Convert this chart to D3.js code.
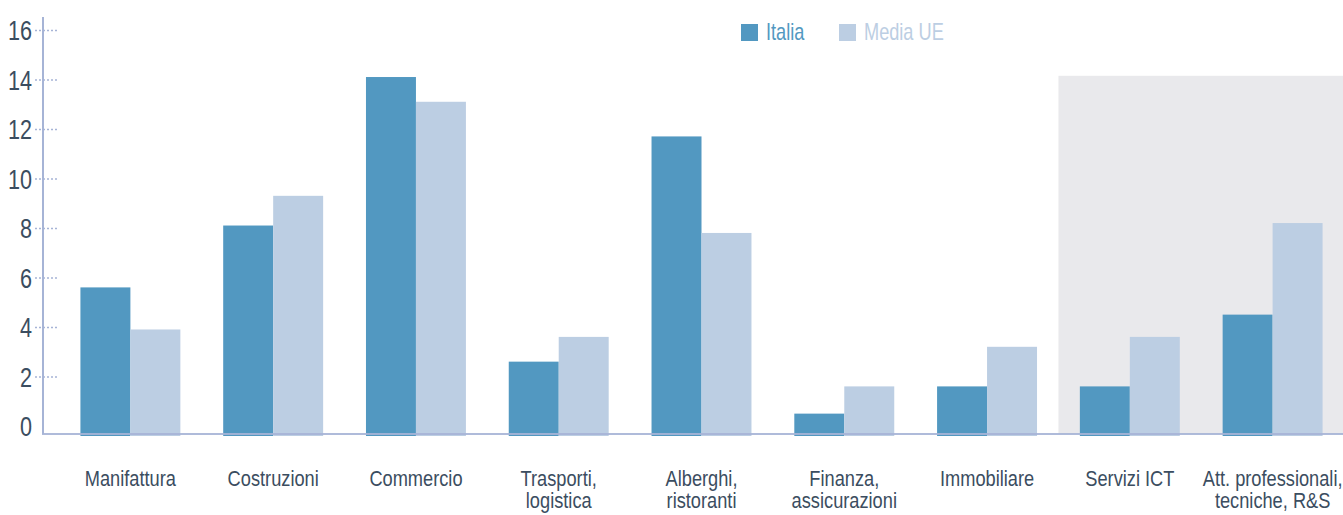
<!DOCTYPE html>
<html>
<head>
<meta charset="utf-8">
<script src="https://cdn.jsdelivr.net/npm/d3@7/dist/d3.min.js"></script>
<style>
  html, body { margin: 0; padding: 0; background: #ffffff; }
  svg { display: block; }
  text { font-family: "Liberation Sans", Arial, sans-serif; }
</style>
</head>
<body>
<svg id="chart" width="1343" height="515"></svg>
<script>
// Sector categories (two-line labels split on "\n")
const categories = [
  "Manifattura",
  "Costruzioni",
  "Commercio",
  "Trasporti,\nlogistica",
  "Alberghi,\nristoranti",
  "Finanza,\nassicurazioni",
  "Immobiliare",
  "Servizi ICT",
  "Att. professionali,\ntecniche, R&S"
];

// Series values (%)
const italia  = [5.6, 8.1, 14.1, 2.6, 11.7, 0.5, 1.6, 1.6, 4.5];
const mediaUE = [3.9, 9.3, 13.1, 3.6, 7.8, 1.6, 3.2, 3.6, 8.2];

const seriesNames = ["Italia", "Media UE"];
const yTicks = [0, 2, 4, 6, 8, 10, 12, 14, 16];

// Sectors highlighted by the shaded panel, and its top value
const highlighted = ["Servizi ICT", "Att. professionali,\ntecniche, R&S"];
const highlightTop = 14.15;

const colors = { "Italia": "#5298c1", "Media UE": "#bccee3" };
const textColor = "#3b4d60";
const axisColor = "#a6b4d6";
const condense = 0.81;   // horizontal squeeze for a condensed look

const W = 1343, H = 515;
const svg = d3.select("#chart");

const axisX = 43;
const baseY = 434;

const x = d3.scaleBand()
  .domain(categories)
  .range([59, 1344])
  .paddingInner(0.3)
  .paddingOuter(0.15);

const xs = d3.scaleBand()
  .domain(seriesNames)
  .range([0, x.bandwidth()]);

const y = d3.scaleLinear().domain([0, 16]).range([426, 30]);

// Shaded panel behind the highlighted sectors
const hx0 = x(highlighted[0]) - x.step() * x.paddingInner() / 2;
svg.append("rect")
  .attr("x", hx0)
  .attr("y", y(highlightTop))
  .attr("width", W - hx0)
  .attr("height", baseY - y(highlightTop))
  .attr("fill", "#e9e9ec");

// Bars
const rows = categories.map((c, i) => ({ cat: c, values: [
  { s: "Italia", v: italia[i] },
  { s: "Media UE", v: mediaUE[i] }
]}));

const groups = svg.append("g").selectAll("g")
  .data(rows).join("g")
  .attr("transform", d => `translate(${x(d.cat)},0)`);

groups.selectAll("rect")
  .data(d => d.values).join("rect")
  .attr("x", d => xs(d.s))
  .attr("y", d => y(d.v))
  .attr("width", xs.bandwidth())
  .attr("height", d => baseY + 2 - y(d.v))
  .attr("fill", d => colors[d.s]);

// Y axis: vertical rule, dotted ticks, labels
svg.append("line")
  .attr("x1", axisX).attr("x2", axisX)
  .attr("y1", 17).attr("y2", baseY)
  .attr("stroke", axisColor).attr("stroke-width", 2);

const yAxis = d3.axisLeft(y).tickValues(yTicks).tickSize(0).tickFormat("");
const gy = svg.append("g").attr("transform", `translate(${axisX},0)`).call(yAxis);
gy.select(".domain").remove();
gy.selectAll(".tick text").remove();
gy.selectAll(".tick").filter(d => d !== 0)
  .append("line")
  .attr("x1", -8).attr("x2", 15)
  .attr("stroke", axisColor)
  .attr("stroke-width", 1.3)
  .attr("stroke-dasharray", "2,2");
gy.selectAll(".tick")
  .append("text")
  .attr("transform", `translate(-11,0) scale(0.8,1)`)
  .attr("text-anchor", "end")
  .attr("dy", "0.36em")
  .attr("fill", textColor)
  .style("font-size", "27px")
  .text(d => d);

// Baseline
svg.append("line")
  .attr("x1", axisX - 1).attr("x2", W)
  .attr("y1", baseY).attr("y2", baseY)
  .attr("stroke", axisColor).attr("stroke-width", 2)
  .attr("stroke-opacity", 0.9);

// Category labels
const xl = svg.append("g");
categories.forEach(c => {
  const t = xl.append("text")
    .attr("transform", `translate(${x(c) + x.bandwidth() / 2},485.5) scale(${condense},1)`)
    .attr("text-anchor", "middle")
    .attr("fill", textColor)
    .style("font-size", "22.5px");
  c.split("\n").forEach((line, k) => {
    t.append("tspan")
      .attr("x", 0)
      .attr("dy", k === 0 ? 0 : 23)
      .text(line);
  });
});

// Legend
const legendPos = [741, 839];
const lg = svg.append("g");
seriesNames.forEach((s, i) => {
  lg.append("rect")
    .attr("x", legendPos[i]).attr("y", 24)
    .attr("width", 17).attr("height", 17)
    .attr("fill", colors[s]);
  lg.append("text")
    .attr("transform", `translate(${legendPos[i] + 25},40) scale(0.79,1)`)
    .attr("fill", colors[s])
    .style("font-size", "23px")
    .text(s);
});
</script>
</body>
</html>
